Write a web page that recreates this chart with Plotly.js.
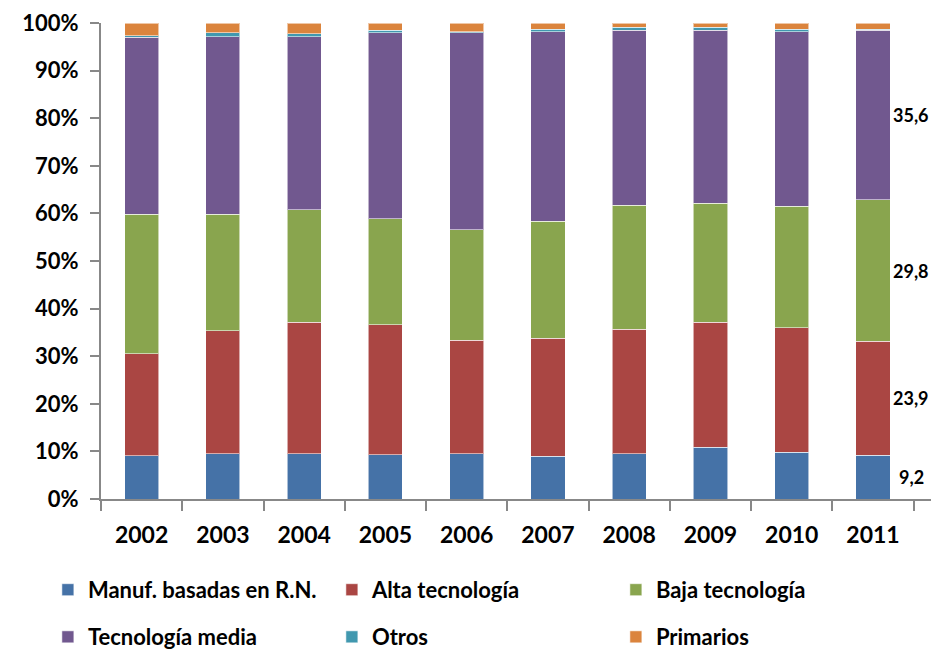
<!DOCTYPE html>
<html>
<head>
<meta charset="utf-8">
<script src="https://cdn.plot.ly/plotly-3.0.1.min.js"></script>
<style>html,body{margin:0;padding:0;background:#fff;overflow:hidden;}#chart{width:944px;height:650px;}</style>
</head>
<body>
<div id="chart"></div>
<script>
const years = ['2002','2003','2004','2005','2006','2007','2008','2009','2010','2011'];
const manuf = [9.1, 9.5, 9.5, 9.3, 9.5, 9.0, 9.5, 10.9, 9.8, 9.2];
const alta = [21.4, 25.9, 27.6, 27.3, 23.8, 24.8, 26.2, 26.2, 26.2, 23.9];
const baja = [29.3, 24.4, 23.7, 22.3, 23.3, 24.5, 26.0, 25.0, 25.5, 29.8];
const media = [37.2, 37.3, 36.3, 39.1, 41.4, 39.9, 36.8, 36.4, 36.7, 35.6];
const otros = [0.3, 0.9, 0.6, 0.5, 0.2, 0.5, 0.6, 0.6, 0.5, 0.2];
const primarios = [2.7, 2.0, 2.3, 1.5, 1.8, 1.3, 0.9, 0.9, 1.3, 1.3];
const seriesNames = ['Manuf. basadas en R.N.', 'Alta tecnología', 'Baja tecnología', 'Tecnología media', 'Otros', 'Primarios'];
const colors = ['#4572A7', '#AA4643', '#89A54E', '#71588F', '#4198AF', '#DB843D'];

const allSeries = [manuf, alta, baja, media, otros, primarios];
const FONT = 'Lato, "Open Sans", "Liberation Sans", sans-serif';

const traces = allSeries.map((vals, i) => ({
  type: 'bar',
  name: seriesNames[i],
  x: years,
  y: vals,
  marker: {color: colors[i], line: {color: 'rgba(255,255,255,0.55)', width: 1}},
  legend: i < 3 ? 'legend' : 'legend2',
  hoverinfo: 'skip'
}));

// Value labels for the last year (first four series), at segment midpoints
const last = years.length - 1;
const annotations = [];
let cum = 0;
for (let i = 0; i < 4; i++) {
  const v = allSeries[i][last];
  annotations.push({
    x: last, y: cum + v / 2, xref: 'x', yref: 'y',
    text: v.toFixed(1).replace('.', ','),
    showarrow: false, xanchor: 'center', yanchor: 'middle', xshift: 38,
    font: {family: FONT, size: 18, color: '#000', weight: 'bold'}
  });
  cum += v;
}

const legendCommon = {
  orientation: 'h', xanchor: 'left', yanchor: 'middle', x: -0.064,
  entrywidth: 239, entrywidthmode: 'pixels', bgcolor: 'rgba(0,0,0,0)', borderwidth: 0,
  font: {family: FONT, size: 22, color: '#000', weight: 'bold'}, traceorder: 'normal'
};

const layout = {
  width: 944, height: 650,
  margin: {l: 101, r: 13, t: 23, b: 151, pad: 0, autoexpand: false},
  paper_bgcolor: '#fff', plot_bgcolor: '#fff',
  barmode: 'stack', bargap: 0.58,
  showlegend: true,
  legend: Object.assign({}, legendCommon, {y: -0.191}),
  legend2: Object.assign({}, legendCommon, {y: -0.290}),
  xaxis: {
    type: 'category', showgrid: false, zeroline: false, automargin: false,
    showline: true, linecolor: '#888', linewidth: 2,
    ticks: 'outside', tickson: 'boundaries', ticklen: 10, tickwidth: 2, tickcolor: '#888',
    tickangle: 0, ticklabelstandoff: 14,
    tickfont: {family: FONT, size: 23, color: '#000', weight: 'bold'}
  },
  yaxis: {
    range: [0, 100], tickmode: 'linear', tick0: 0, dtick: 10, ticksuffix: '%',
    showgrid: false, zeroline: false, automargin: false,
    showline: true, linecolor: '#888', linewidth: 2,
    ticks: 'outside', ticklen: 9, tickwidth: 2, tickcolor: '#888',
    ticklabelstandoff: 7,
    tickfont: {family: FONT, size: 22, color: '#000', weight: 'bold'}
  },
  annotations: annotations
};

Plotly.newPlot('chart', traces, layout, {displayModeBar: false});
</script>
</body>
</html>
